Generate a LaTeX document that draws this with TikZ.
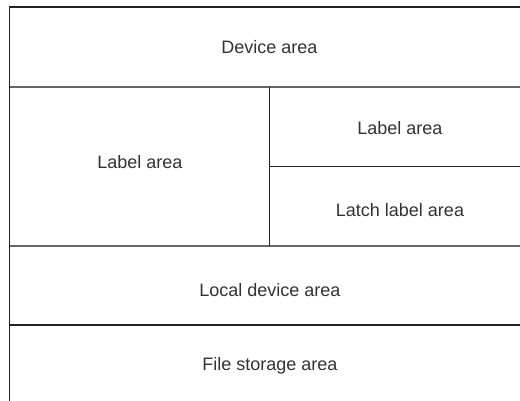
\documentclass[tikz,border=0pt]{standalone}
\usepackage{fontspec}
\setmainfont{Liberation Sans}
\definecolor{linedark}{HTML}{222222}
\definecolor{linegray}{HTML}{666666}
\definecolor{textgray}{HTML}{333333}
\begin{document}
\begin{tikzpicture}[x=1pt,y=-1pt,
  area/.style={text=textgray,font=\fontsize{18}{21}\selectfont},
  dark/.style={draw=linedark,line width=1.5pt},
  soft/.style={draw=linegray,line width=2pt}]
\useasboundingbox[fill=white] (0,0) rectangle (520,401);
% frame and dividers
 \draw[dark] (9.5,401) -- (9.5,7) -- (520,7);
  \draw[soft] (9.5,86.7) -- (520,86.7);
  \draw[soft] (9.5,245.7) -- (520,245.7);
  \draw[dark] (9.5,325) -- (520,325);
  \draw[dark] (269.7,86.7) -- (269.7,245.7);
  \draw[dark] (269.7,166.7) -- (520,166.7);
% texts
 \node[area] (device) at (269.5,47) {Device area};
 \node[area] (labelleft) at (140,162) {Label area};
 \node[area] (labelright) at (400,128) {Label area};
 \node[area] (latch) at (400,210) {Latch label area};
 \node[area] (local) at (270,290) {Local device area};
 \node[area] (file) at (270,366) {File storage area};
\end{tikzpicture}
\end{document}
